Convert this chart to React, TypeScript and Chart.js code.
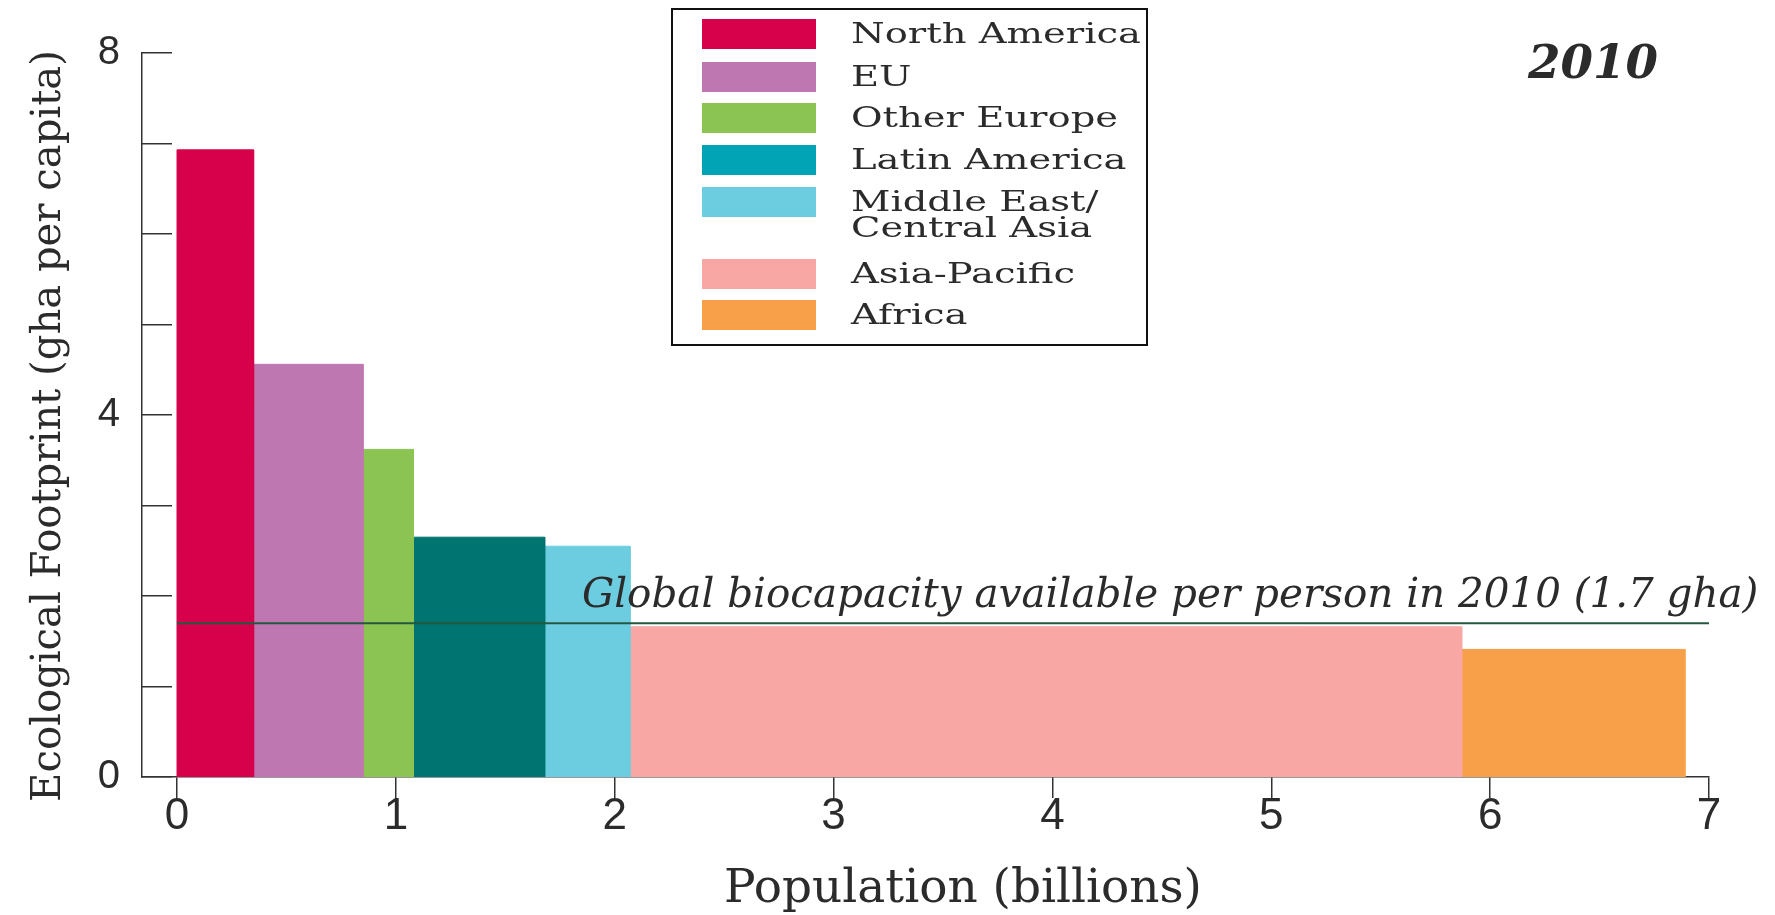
import React, { useEffect, useRef } from 'react';
import { Chart, registerables } from 'chart.js';

Chart.register(...registerables);

// ---------- data ----------
const regions = [
  'North America',
  'EU',
  'Other Europe',
  'Latin America',
  'Middle East/\nCentral Asia',
  'Asia-Pacific',
  'Africa',
];
const population = [0.35, 0.5, 0.23, 0.6, 0.39, 3.8, 1.02]; // billions (bar widths)
const footprint = [6.93, 4.56, 3.62, 2.65, 2.55, 1.66, 1.41]; // gha per capita (bar heights)
const biocapacity = 1.7;
const xTickValues = [0, 1, 2, 3, 4, 5, 6, 7];
const yTickValues = [0, 1, 2, 3, 4, 5, 6, 7, 8];
const yLabelledTicks = [0, 4, 8];
const yearLabel = '2010';
const biocapLabel = 'Global biocapacity available per person in 2010 (1.7 gha)';
const xTitle = 'Population (billions)';
const yTitle = 'Ecological Footprint (gha per capita)';

// ---------- styles ----------
const barColors = ['#d6004b', '#bf77b1', '#8bc452', '#007471', '#6dcde0', '#f9a7a4', '#f8a049'];
const legendColors = ['#d6004b', '#bf77b1', '#8bc452', '#00a4b4', '#6dcde0', '#f9a7a4', '#f8a049'];
const SERIF = '"DejaVu Serif", "Liberation Serif", serif';
const SANS = '"Liberation Sans", Arial, sans-serif';
const NARROW = '"Liberation Sans Narrow", "Liberation Sans", Arial, sans-serif';
const INK = '#2b2b2b';

function fitSize(ctx: CanvasRenderingContext2D, text: string, style: string, family: string, target: number) {
  ctx.font = `${style} 100px ${family}`;
  const w = ctx.measureText(text).width;
  return (100 * target) / w;
}

const overlayPlugin = {
  id: 'overlay',
  afterDraw(chart: any) {
    const ctx: CanvasRenderingContext2D = chart.ctx;
    const xs = chart.scales.x;
    const ys = chart.scales.y;
    ctx.save();
    ctx.fillStyle = INK;

    // x title
    let s = fitSize(ctx, xTitle, '', SERIF, 478);
    ctx.font = `${s}px ${SERIF}`;
    ctx.textAlign = 'center';
    ctx.textBaseline = 'middle';
    ctx.fillText(xTitle, 963, 890);

    // y title
    s = fitSize(ctx, yTitle, '', SERIF, 752);
    ctx.save();
    ctx.translate(50, 426);
    ctx.rotate(-Math.PI / 2);
    ctx.font = `${s}px ${SERIF}`;
    ctx.textAlign = 'center';
    ctx.textBaseline = 'middle';
    ctx.fillText(yTitle, 0, 0);
    ctx.restore();

    // biocapacity annotation
    s = fitSize(ctx, biocapLabel, 'italic', SERIF, 1177);
    ctx.font = `italic ${s}px ${SERIF}`;
    ctx.textAlign = 'left';
    ctx.textBaseline = 'alphabetic';
    ctx.fillText(biocapLabel, xs.getPixelForValue(1.85), ys.getPixelForValue(biocapacity) - 16);

    // year
    s = fitSize(ctx, yearLabel, 'italic bold', SERIF, 130);
    ctx.font = `italic bold ${s}px ${SERIF}`;
    ctx.textAlign = 'left';
    ctx.textBaseline = 'middle';
    ctx.fillText(yearLabel, 1528, 66);

    // legend box
    ctx.strokeStyle = '#111';
    ctx.lineWidth = 2;
    ctx.strokeRect(672, 9, 475, 336);
    const rowTops = [19, 62, 103, 145, 187, 259, 300];
    const swH = 30;
    ctx.font = `27px ${SERIF}`;
    const ref = ctx.measureText('North America').width;
    const sx = 290 / ref;
    regions.forEach((r, i) => {
      ctx.fillStyle = legendColors[i];
      ctx.fillRect(702, rowTops[i], 114, swH);
      ctx.fillStyle = INK;
      const lines = r.split('\n');
      lines.forEach((ln, j) => {
        ctx.save();
        ctx.translate(851, rowTops[i] + swH / 2 + 2 + j * 26);
        ctx.scale(sx, 1);
        ctx.textAlign = 'left';
        ctx.textBaseline = 'middle';
        ctx.fillText(ln, 0, 0);
        ctx.restore();
      });
    });
    ctx.restore();
  },
};

export default function App() {
  const ref = useRef<HTMLCanvasElement>(null);

  useEffect(() => {
    if (!ref.current) return;
    let start = 0;
    const barSets = regions.map((r, i) => {
      const x0 = start;
      const x1 = start + population[i];
      start = x1;
      return {
        label: r,
        data: [
          { x: x0, y: 0 },
          { x: x0, y: footprint[i] },
          { x: x1, y: footprint[i] },
          { x: x1, y: 0 },
        ],
        showLine: true,
        backgroundColor: barColors[i],
        borderColor: barColors[i],
        borderWidth: 1,
        pointRadius: 0,
        fill: 'origin',
        tension: 0,
        order: 2,
      };
    });
    const lineSet = {
      label: 'Biocapacity',
      data: [
        { x: xTickValues[0], y: biocapacity },
        { x: xTickValues[xTickValues.length - 1], y: biocapacity },
      ],
      showLine: true,
      borderColor: '#24573f',
      borderWidth: 2,
      pointRadius: 0,
      fill: false,
      order: 0,
    };

    const chart = new Chart(ref.current, {
      type: 'scatter',
      data: { datasets: [lineSet, ...barSets] as any },
      options: {
        animation: false,
        responsive: true,
        maintainAspectRatio: false,
        layout: { padding: { left: 0, top: 53, right: 66, bottom: 0 } },
        plugins: { legend: { display: false }, tooltip: { enabled: false } },
        scales: {
          x: {
            type: 'linear',
            min: -0.16,
            max: 7,
            afterBuildTicks: (sc: any) => {
              sc.ticks = xTickValues.map((v) => ({ value: v }));
            },
            afterFit: (sc: any) => {
              sc.height = 138;
              sc.paddingLeft = 0;
              sc.paddingRight = 0;
            },
            ticks: {
              autoSkip: false,
              maxRotation: 0,
              padding: -8,
              color: INK,
              font: { family: NARROW, size: 44 },
            },
            grid: { drawOnChartArea: false, drawTicks: true, tickLength: 21, color: '#333', lineWidth: 1.5 },
            border: { display: true, color: '#333', width: 1.5 },
          },
          y: {
            type: 'linear',
            min: 0,
            max: 8,
            afterBuildTicks: (sc: any) => {
              sc.ticks = yTickValues.map((v) => ({ value: v }));
            },
            afterFit: (sc: any) => {
              sc.width = 142;
              sc.paddingTop = 0;
              sc.paddingBottom = 0;
            },
            ticks: {
              autoSkip: false,
              padding: 52,
              color: INK,
              font: { family: SANS, size: 40 },
              callback: (v: any) => (yLabelledTicks.includes(Number(v)) ? String(v) : ''),
            },
            grid: { drawOnChartArea: false, drawTicks: true, tickLength: -30, color: '#333', lineWidth: 1.5 },
            border: { display: true, color: '#333', width: 1.5 },
          },
        },
      },
      plugins: [overlayPlugin],
    });
    return () => chart.destroy();
  }, []);

  return (
    <div style={{ position: 'absolute', left: 0, top: 0, width: 1775, height: 915, background: '#fff' }}>
      <canvas ref={ref} />
    </div>
  );
}
